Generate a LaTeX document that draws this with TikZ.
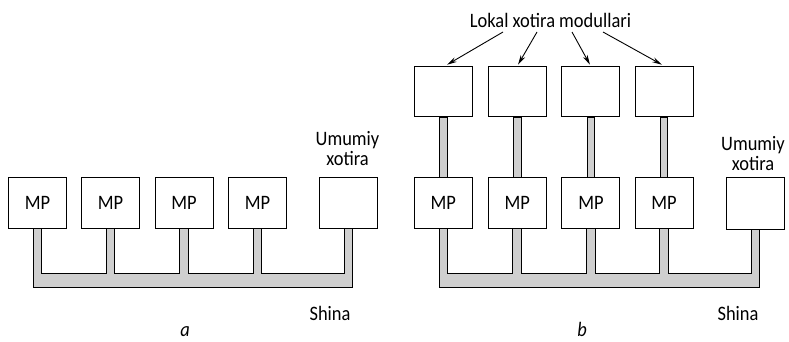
\documentclass[tikz,border=0pt]{standalone}
\usepackage{fontspec}
\setmainfont{Carlito}[FakeStretch=0.9]
\usetikzlibrary{calc,arrows.meta}
\tikzset{
  box/.style={draw, line width=0.9pt, fill=white, minimum width=58pt, minimum height=51pt, inner sep=0pt},
  bus/.style={fill=black!19, draw=black, line width=1pt},
  lbl/.style={anchor=base, inner sep=0pt},
  arr/.style={-{Stealth[length=10pt,width=5pt]}, line width=0.9pt}
}
\begin{document}
\begin{tikzpicture}[x=1pt,y=-1pt,font=\fontsize{20.5}{24}\selectfont]
\useasboundingbox (0,0) rectangle (789,342);
% ---------- panel a ----------
\path (37.5,202.75) node[box] (a1) {}
      (110.5,202.75) node[box] (a2) {}
      (184,202.75) node[box] (a3) {}
      (257.5,202.75) node[box] (a4) {}
      (348.5,202.75) node[box] (a5) {};
\filldraw[bus] ($(a1.south)+(-4.25,0)$) -- ++(0,58.5) -| ($(a5.south)+(4.25,0)$)
  -- ($(a5.south)+(-4.25,0)$) -- ++(0,45) -| ($(a4.south)+(4.25,0)$)
  -- ($(a4.south)+(-4.25,0)$) -- ++(0,45) -| ($(a3.south)+(4.25,0)$)
  -- ($(a3.south)+(-4.25,0)$) -- ++(0,45) -| ($(a2.south)+(4.25,0)$)
  -- ($(a2.south)+(-4.25,0)$) -- ++(0,45) -| ($(a1.south)+(4.25,0)$) -- cycle;
\path (37.5,202.75) node[box] (a1) {MP}
      (110.5,202.75) node[box] (a2) {MP}
      (184,202.75) node[box] (a3) {MP}
      (257.5,202.75) node[box] (a4) {MP}
      (348.5,202.75) node[box] (a5) {};
\node[lbl] (au) at (347.5,145) {Umumiy};
\node[lbl] (ax) at (347.5,165) {xotira};
\node[lbl] (as) at (330,320) {Shina};
\node[lbl] (acap) at (185,336) {\itshape a};
% ---------- panel b ----------
\path (443.3,91.7) node[box,minimum height=50pt] (t1) {}
      (517.2,91.7) node[box,minimum height=50pt] (t2) {}
      (590.9,91.7) node[box,minimum height=50pt] (t3) {}
      (664,91.7) node[box,minimum height=50pt] (t4) {};
\path (443.3,203) node[box,minimum height=50.6pt] (b1) {}
      (517.2,203) node[box,minimum height=50.6pt] (b2) {}
      (590.9,203) node[box,minimum height=50.6pt] (b3) {}
      (664,203) node[box,minimum height=50.6pt] (b4) {}
      (755.5,203) node[box,minimum height=52pt] (b5) {};
\foreach \i in {1,...,4}{
  \filldraw[bus] ($(t\i.south)+(-3.9,0)$) rectangle ($(b\i.north)+(3.9,0)$);
}
\filldraw[bus] ($(b1.south)+(-4.3,0)$) -- ++(0,59) -| ($(b5.south)+(4.3,0)$)
  -- ($(b5.south)+(-4.3,0)$) -- ++(0,44.5) -| ($(b4.south)+(4.3,0)$)
  -- ($(b4.south)+(-4.3,0)$) -- ++(0,45.2) -| ($(b3.south)+(4.3,0)$)
  -- ($(b3.south)+(-4.3,0)$) -- ++(0,45.2) -| ($(b2.south)+(4.3,0)$)
  -- ($(b2.south)+(-4.3,0)$) -- ++(0,45.2) -| ($(b1.south)+(4.3,0)$) -- cycle;
\path (443.3,91.7) node[box,minimum height=50pt] (t1) {}
      (517.2,91.7) node[box,minimum height=50pt] (t2) {}
      (590.9,91.7) node[box,minimum height=50pt] (t3) {}
      (664,91.7) node[box,minimum height=50pt] (t4) {};
\path (443.3,203) node[box,minimum height=50.6pt] (b1) {MP}
      (517.2,203) node[box,minimum height=50.6pt] (b2) {MP}
      (590.9,203) node[box,minimum height=50.6pt] (b3) {MP}
      (664,203) node[box,minimum height=50.6pt] (b4) {MP}
      (755.5,203) node[box,minimum height=52pt] (b5) {};
\node[lbl] (lk) at (550.5,27.5) {Lokal xotira modullari};
\coordinate (s1) at (503,32);
\coordinate (s2) at (537,32);
\coordinate (s3) at (572,32);
\coordinate (s4) at (603,32);
\draw[arr] (s1) -- ($(t1.north)+(3.7,-1.5)$);
\draw[arr] (s2) -- ($(t2.north)+(0.8,-1.5)$);
\draw[arr] (s3) -- ($(t3.north)+(-0.9,-1.5)$);
\draw[arr] (s4) -- ($(t4.north)+(-2,-1.5)$);
\node[lbl] (bu) at (753,150) {Umumiy};
\node[lbl] (bx) at (753,170) {xotira};
\node[lbl] (bs) at (738,320) {Shina};
\node[lbl] (bcap) at (582,336) {\itshape b};
\end{tikzpicture}
\end{document}
